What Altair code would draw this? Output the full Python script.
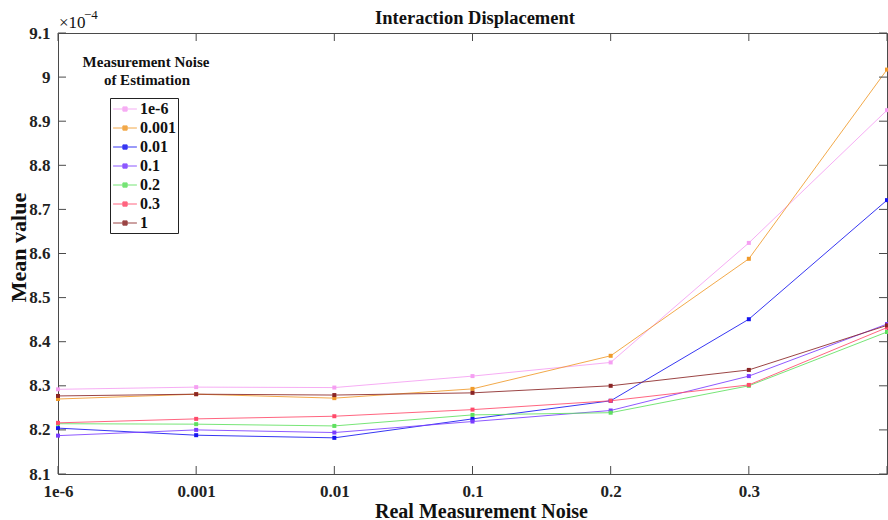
import altair as alt
import pandas as pd

# x categories: real measurement noise
noise_real = ["1e-6", "0.001", "0.01", "0.1", "0.2", "0.3", "1"]
# legend: measurement noise of estimation
series_names = ["1e-6", "0.001", "0.01", "0.1", "0.2", "0.3", "1"]

# mean values (in units of 1e-4)
s_1e6 = [8.292, 8.297, 8.296, 8.322, 8.353, 8.624, 8.925]
s_0001 = [8.270, 8.281, 8.272, 8.293, 8.368, 8.588, 9.017]
s_001 = [8.204, 8.188, 8.182, 8.225, 8.266, 8.451, 8.721]
s_01 = [8.187, 8.200, 8.194, 8.219, 8.244, 8.322, 8.440]
s_02 = [8.214, 8.213, 8.209, 8.234, 8.239, 8.300, 8.422]
s_03 = [8.216, 8.225, 8.231, 8.246, 8.266, 8.302, 8.432]
s_1 = [8.277, 8.281, 8.279, 8.284, 8.300, 8.336, 8.437]

y_ticks = [8.1, 8.2, 8.3, 8.4, 8.5, 8.6, 8.7, 8.8, 8.9, 9.0, 9.1]

colors = ["#f59ff2", "#f09a2a", "#1414f0", "#7a3cff", "#5fe05f", "#ff4a6a", "#8a2525"]

all_series = [s_1e6, s_0001, s_001, s_01, s_02, s_03, s_1]
rows = []
for name, vals in zip(series_names, all_series):
    for c, v in zip(noise_real, vals):
        rows.append({"noise": c, "value": v, "est": name})
df = pd.DataFrame(rows)

W, H = 829, 441
FONT = "Liberation Serif"
AX = "#4a4a4a"
TK = 8

x_enc = alt.X(
    "noise:N",
    scale=alt.Scale(type="point", domain=noise_real, padding=0),
    sort=noise_real,
    axis=alt.Axis(
        title="Real Measurement Noise",
        labelExpr="datum.value == '1' ? '' : datum.value",
        ticks=False, domain=False, grid=False, labelAngle=0,
        labelPadding=9, titleX=423, titleY=37, titleBaseline="middle",
        titleFontSize=20,
    ),
)
y_enc = alt.Y(
    "value:Q",
    scale=alt.Scale(domain=[8.1, 9.1], nice=False, zero=False),
    axis=alt.Axis(
        values=y_ticks, title="Mean value", ticks=False, domain=False, grid=False,
        labelPadding=8,
        labelExpr="format(datum.value, '.1f') == '9.0' ? '9' : format(datum.value, '.1f')",
        titleX=-40, titleY=214, titleBaseline="middle", titleFontSize=22,
    ),
)
color_enc = alt.Color(
    "est:N",
    scale=alt.Scale(domain=series_names, range=colors),
    sort=series_names,
    legend=alt.Legend(title=None, orient="none", legendX=52, legendY=65),
)

base = alt.Chart(df).encode(x=x_enc, y=y_enc, color=color_enc)
lines = base.mark_line(strokeWidth=1, opacity=0.85)
points = base.mark_square(size=16, filled=True, opacity=1)

# inward ticks (MATLAB style box)
ydf = pd.DataFrame({"value": y_ticks})
xdf = pd.DataFrame({"noise": noise_real})
yl = alt.Chart(ydf).mark_rule(color=AX, strokeWidth=1).encode(
    y=alt.Y("value:Q"), x=alt.value(0), x2=alt.value(TK))
yr = alt.Chart(ydf).mark_rule(color=AX, strokeWidth=1).encode(
    y=alt.Y("value:Q"), x=alt.value(W - TK), x2=alt.value(W))
xb = alt.Chart(xdf).mark_rule(color=AX, strokeWidth=1).encode(
    x=alt.X("noise:N", sort=noise_real), y=alt.value(H - TK), y2=alt.value(H))
xt = alt.Chart(xdf).mark_rule(color=AX, strokeWidth=1).encode(
    x=alt.X("noise:N", sort=noise_real), y=alt.value(0), y2=alt.value(TK))

one = pd.DataFrame({"t": ["a"]})
title_t = alt.Chart(one).mark_text(font=FONT, fontWeight="bold", fontSize=18.5, align="center",
                                   baseline="middle", color="#111",
                                   text="Interaction Displacement").encode(
    x=alt.value(417), y=alt.value(-15))
leg_t1 = alt.Chart(one).mark_text(font=FONT, fontWeight="bold", fontSize=15, align="center",
                                  baseline="middle", color="#111", text="Measurement Noise").encode(
    x=alt.value(88), y=alt.value(29))
leg_t2 = alt.Chart(one).mark_text(font=FONT, fontWeight="bold", fontSize=15, align="center",
                                  baseline="middle", color="#111", text="of Estimation").encode(
    x=alt.value(89), y=alt.value(47))
exp1 = alt.Chart(one).mark_text(font=FONT, fontSize=17, align="left", baseline="alphabetic",
                                color="#111", text="×10").encode(x=alt.value(1), y=alt.value(-5))
exp2 = alt.Chart(one).mark_text(font=FONT, fontSize=13, align="left", baseline="alphabetic",
                                color="#111", text="−4").encode(x=alt.value(26), y=alt.value(-14))

chart = alt.layer(
    lines, points, yl, yr, xb, xt, title_t, leg_t1, leg_t2, exp1, exp2
).properties(
    width=W, height=H,
    autosize=alt.AutoSizeParams(type="none"),
    padding={"left": 58, "top": 33, "right": 1, "bottom": 46},
).configure_view(
    stroke=AX, strokeWidth=1
).configure_axis(
    labelFont=FONT, labelFontSize=17, labelFontWeight="bold", labelColor="#222",
    titleFont=FONT, titleFontWeight="bold", titleColor="#111",
).configure_legend(
    strokeColor="#222", strokeWidth=1, fillColor="white", padding=2,
    symbolType="M-1.4,0L1.4,0M-0.25,-0.25L0.25,-0.25L0.25,0.25L-0.25,0.25Z",
    symbolSize=289, symbolStrokeWidth=1, symbolOffset=4, labelOffset=6,
    labelFont=FONT, labelFontSize=16, labelFontWeight="bold", labelColor="#111",
    rowPadding=2,
)

chart.save("out.html", embed_options={"renderer": "svg", "actions": False})
